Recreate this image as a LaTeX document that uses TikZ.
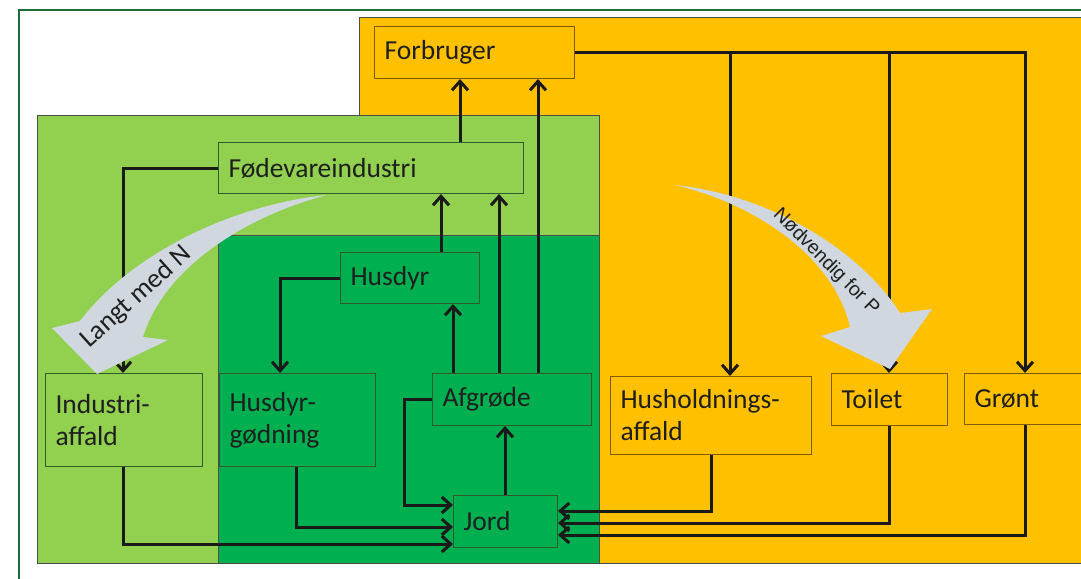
\documentclass[tikz,border=0pt]{standalone}
\usepackage{fontspec}
\setmainfont{Carlito}
\newfontfamily\arialf{Liberation Sans}
\usetikzlibrary{arrows.meta}
\definecolor{orng}{HTML}{FFC000}
\definecolor{lgreen}{HTML}{92D050}
\definecolor{dgreen}{HTML}{00B050}
\definecolor{framec}{HTML}{1E6B3A}
\definecolor{greyarr}{RGB}{208,215,222}
\definecolor{linec}{HTML}{1A1A1A}
\definecolor{obord}{HTML}{7F5A10}
\definecolor{gbord}{HTML}{2E5A2E}
\begin{document}
\begin{tikzpicture}[x=1pt,y=-1pt,
  panel/.style={draw=black!70, line width=0.9pt},
  bx/.style={anchor=north west, inner xsep=10pt, inner ysep=0pt, align=left,
    font=\fontsize{27.5}{32}\selectfont, line width=1pt, text=black!88},
  gbx/.style={bx, draw=gbord},
  obx/.style={bx, draw=obord},
  arr/.style={draw=linec, line width=3pt, line join=miter,
    -{Straight Barb[length=9pt,width=16pt]}},
  bigarrow/.style={fill=greyarr, draw=none},
  arrtext/.style={text=black!88, inner sep=0pt}
]
\clip (0,0) rectangle (1081,578);
\fill[white] (0,0) rectangle (1081,578);
% frame
\draw[framec, line width=2.8pt] (19,590) -- (19,10) -- (1090,10);
% panels
\path[panel, fill=orng] (359,17) rectangle (1095,563);
\path[panel, fill=lgreen] (37,115) rectangle (599,563);
\path[panel, fill=dgreen] (218,235) rectangle (599,563);
% boxes
\node[obx, fill=orng, text width=180pt, minimum height=52pt] (forb) at (374,26) {Forbruger};
\node[gbx, fill=lgreen, text width=285pt, minimum height=51pt] (fode) at (218,142) {Fødevareindustri};
\node[gbx, fill=dgreen, text width=119pt, minimum height=51pt] (husdyr) at (340,252) {Husdyr};
\node[gbx, fill=lgreen, text width=137pt, minimum height=93pt] (ind) at (45,373) {Industri-\\affald};
\node[gbx, fill=dgreen, text width=136pt, minimum height=93pt] (hg) at (219,373) {Husdyr-\\gødning};
\node[gbx, fill=dgreen, text width=139pt, minimum height=52pt] (afg) at (432,373) {Afgrøde};
\node[gbx, fill=dgreen, text width=84pt, minimum height=52pt] (jord) at (453,495) {Jord};
\node[obx, fill=orng, text width=181pt, minimum height=78pt] (hush) at (610,376) {Husholdnings-\\affald};
\node[obx, fill=orng, text width=96pt, minimum height=52pt] (toil) at (831,373) {Toilet};
\node[obx, fill=orng, text width=130pt, minimum height=51pt] (gron) at (964,373) {Grønt};
% connectors
\draw[arr] (fode.north -| 460,0) -- (forb.south -| 460,0);
\draw[arr] (afg.north -| 538,0) -- (forb.south -| 538,0);
\draw[arr] (afg.north -| 499,0) -- (fode.south -| 499,0);
\draw[arr] (husdyr.north -| 441,0) -- (fode.south -| 441,0);
\draw[arr] (afg.north -| 453,0) -- (husdyr.south -| 453,0);
\draw[arr] (jord.north -| 505,0) -- (afg.south -| 505,0);
\draw[arr] (fode.west) -| (ind.north -| 123,0);
\draw[arr] (husdyr.west) -| (hg.north -| 280,0);
\draw[arr] (ind.south -| 123,0) |- (jord.west |- 0,544);
\draw[arr] (hg.south -| 296,0) |- (jord.west |- 0,527);
\draw[arr] (afg.west) -- (afg.west -| 404,0) |- (jord.west |- 0,505);
\draw[arr] (forb.east) -| (gron.north -| 1025,0);
\draw[arr] (forb.east -| 730,0) -- (hush.north -| 730,0);
\draw[arr] (forb.east -| 889,0) -- (toil.north -| 889,0);
\draw[arr] (hush.south -| 711,0) |- (jord.east |- 0,511);
\draw[arr] (toil.south -| 889,0) |- (jord.east |- 0,523);
\draw[arr] (gron.south -| 1025,0) |- (jord.east |- 0,535);
% big grey arrows
\path[bigarrow] (327,195) .. controls (230,205) and (130,255) .. (80,321)
  -- (52,328) -- (97,374) -- (168,340) -- (143,337)
  .. controls (165,265) and (250,215) .. (327,195) -- cycle;
\node[arrtext, rotate=42, font=\fontsize{27}{30}\selectfont] (langt) at (136,297) {Langt med N};
\path[bigarrow] (675,185) .. controls (770,195) and (860,250) .. (900,313)
  -- (932,309) -- (890,369) -- (821,336) -- (850,327)
  .. controls (835,260) and (760,205) .. (675,185) -- cycle;
\node[arrtext, rotate=-45, font=\arialf\fontsize{19.5}{22}\selectfont] (nodv) at (826,262) {Nødvendig for P};
\end{tikzpicture}
\end{document}
